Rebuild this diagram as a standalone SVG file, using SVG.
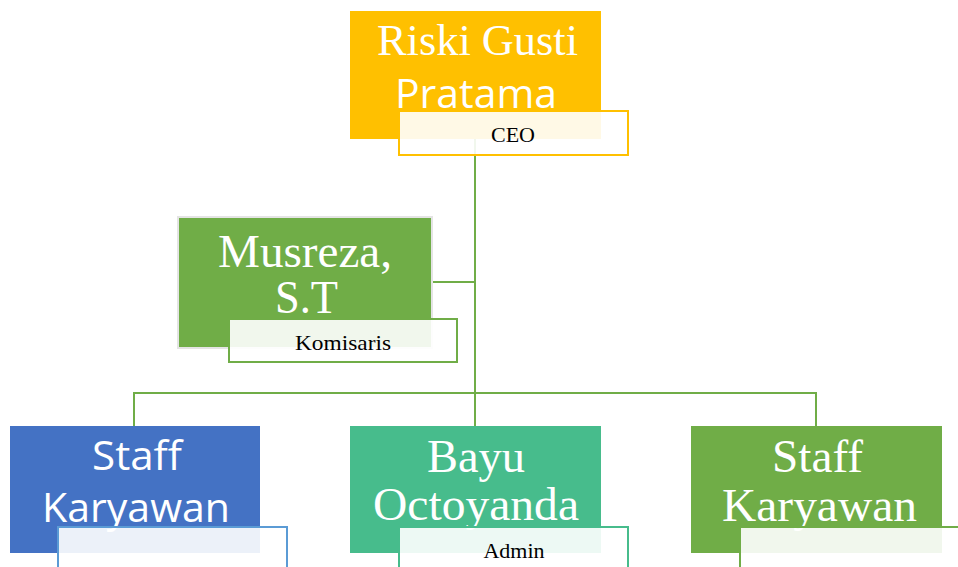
<svg xmlns="http://www.w3.org/2000/svg" width="958" height="567" viewBox="0 0 958 567">
<style>
.conn{stroke:#70AD47;stroke-width:2;fill:none}
.serif{font-family:"Liberation Serif","Times New Roman",serif}
.sans{font-family:"Open Sans","Liberation Sans",sans-serif;font-size:40px}
.big{fill:#FFFFFF;font-size:43px}
.sans.big{font-size:40px}
.lbl{fill:#000000;font-size:22px;text-anchor:middle}
.lab{fill:#FFFFFF;fill-opacity:0.9;stroke-width:2}
</style>
<rect width="958" height="567" fill="#FFFFFF"/>
<g id="connectors">
<path class="conn" d="M475,139 V426"/>
<path class="conn" d="M432,282 H475"/>
<path class="conn" d="M134,426 V393 H816 V426"/>
</g>
<g id="node-ceo">
<rect x="350" y="11" width="251" height="128" fill="#FFC000"/>
<text class="serif big" x="377" y="55" textLength="201" lengthAdjust="spacingAndGlyphs" style="font-size:44px">Riski Gusti</text>
<text class="sans big" x="395" y="108" textLength="162" lengthAdjust="spacingAndGlyphs">Pratama</text>
<rect class="lab" x="399" y="111" width="229" height="44" stroke="#FFC000"/>
<text class="serif lbl" x="513" y="142">CEO</text>
</g>
<g id="node-komisaris">
<rect x="178" y="217" width="254" height="131" fill="#70AD47" stroke="#E4E4E4" stroke-width="2"/>
<text class="serif big" x="218" y="267" textLength="174" lengthAdjust="spacingAndGlyphs" style="font-size:46px">Musreza,</text>
<text class="serif big" x="275" y="313" textLength="63" lengthAdjust="spacingAndGlyphs" style="font-size:46px">S.T</text>
<rect class="lab" x="229" y="319" width="228" height="43" stroke="#70AD47"/>
<text class="serif lbl" x="343" y="350" textLength="96" lengthAdjust="spacingAndGlyphs">Komisaris</text>
</g>
<g id="node-staff-left">
<rect x="10" y="426" width="250" height="127" fill="#4472C4"/>
<text class="sans big" x="92" y="470" textLength="90" lengthAdjust="spacingAndGlyphs">Staff</text>
<text class="sans big" x="42" y="522" textLength="188" lengthAdjust="spacingAndGlyphs">Karyawan</text>
<rect class="lab" x="58" y="527" width="229" height="50" stroke="#5B9BD5"/>
</g>
<g id="node-admin">
<rect x="350" y="426" width="251" height="127" fill="#47BC8C"/>
<text class="serif big" x="427" y="472" textLength="98" lengthAdjust="spacingAndGlyphs" style="font-size:46px">Bayu</text>
<text class="serif big" x="373" y="520" textLength="206" lengthAdjust="spacingAndGlyphs" style="font-size:46px">Octoyanda</text>
<rect class="lab" x="399" y="527" width="229" height="50" stroke="#47BC8C"/>
<text class="serif lbl" x="514" y="558">Admin</text>
</g>
<g id="node-staff-right">
<rect x="691" y="426" width="251" height="127" fill="#70AD47"/>
<text class="serif big" x="772" y="472" textLength="91" lengthAdjust="spacingAndGlyphs" style="font-size:46px">Staff</text>
<text class="serif big" x="722" y="521" textLength="195" lengthAdjust="spacingAndGlyphs" style="font-size:46px">Karyawan</text>
<rect class="lab" x="740" y="527" width="229" height="50" stroke="#70AD47"/>
</g>
</svg>
